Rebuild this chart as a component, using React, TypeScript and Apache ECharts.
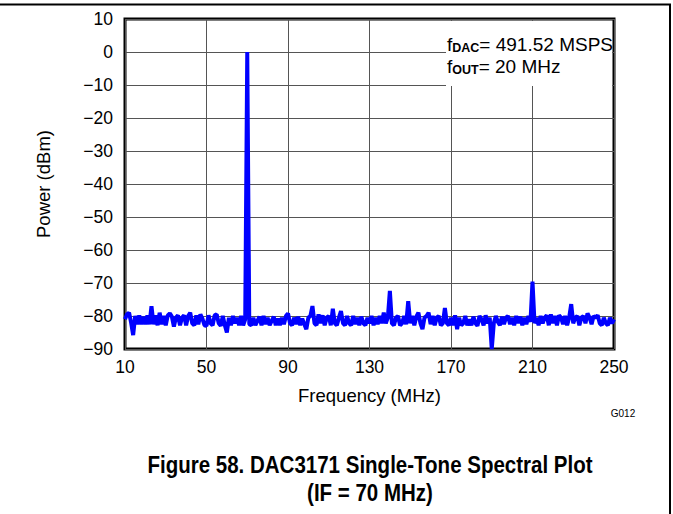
import React, { useEffect, useRef } from "react";
import * as echarts from "echarts";

const FREQ_START_MHZ = 10;
const FREQ_STEP_MHZ = 1;
const POWER_DBM = [
  // 10-19
  -81, -79.5, -79, -82, -85.8, -80, -82.5, -79.8, -82.5, -80.2,
  // 20-29
  -82.5, -79.8, -82.5, -77, -82.5, -79.8, -82.8, -79, -82.5, -80,
  // 30-39
  -82.8, -79.8, -79.2, -80.2, -83.2, -80.5, -79.8, -82.8, -80.5, -79.8,
  // 40-49
  -82.8, -80, -79, -82.2, -82.8, -79.8, -82.5, -79.5, -80.8, -82.8,
  // 50-59
  -83, -79.8, -82.2, -82.8, -79.8, -79.5, -82.2, -83, -80, -82.8,
  // 60-69
  -85, -80.5, -82.8, -80, -82.2, -80.5, -82.8, -80, -82.8, -81,
  // 70-79
  0, -82.5, -82.8, -80.5, -82.8, -81.5, -80.2, -82.8, -80, -82.5,
  // 80-89
  -80.5, -82.8, -81.5, -80.2, -82.8, -80.8, -82.8, -80.5, -82.5, -80,
  // 90-99
  -79.2, -82.2, -82.8, -80.5, -82.5, -80.2, -82.8, -80.8, -82.5, -84,
  // 100-109
  -80.5, -80, -77, -82.2, -82.8, -79.5, -82.2, -79.8, -82.8, -80.5,
  // 110-119
  -80, -82.8, -77.8, -82.2, -82.8, -80.5, -78.5, -82.2, -82.8, -80,
  // 120-129
  -82.2, -82.8, -80, -82.5, -80.5, -82.8, -80.2, -82.2, -82.8, -80.5,
  // 130-139
  -82.2, -80, -82.8, -80.5, -82.5, -80, -82.2, -79, -82.2, -80.5,
  // 140-149
  -72.4, -82.2, -82.8, -80.5, -80, -82.8, -82.2, -80, -82.5, -75.5,
  // 150-159
  -82.2, -80, -82.8, -80.2, -79, -82.2, -84, -80.5, -80, -79,
  // 160-169
  -82.5, -80, -82.8, -80.5, -80, -82.8, -82.2, -77.6, -82.2, -82.8,
  // 170-179
  -80.5, -82.8, -79.8, -84, -80.5, -82.8, -82.2, -80, -82.8, -81,
  // 180-189
  -82.8, -80.2, -82.2, -83, -80, -81, -82.8, -79.8, -82.2, -80.5,
  // 190-199
  -90, -82.2, -80, -81.8, -82.8, -80.2, -82.5, -80.5, -80, -82.5,
  // 200-209
  -80.5, -82.8, -80, -82.2, -80.2, -82.8, -80.5, -82.5, -80, -81.8,
  // 210-219
  -69.6, -82.2, -80.5, -82.8, -80, -82.2, -80.5, -79.8, -82.8, -79.5,
  // 220-229
  -82.2, -80, -82.8, -79.8, -80.5, -82.5, -80, -82.8, -80.5, -76.4,
  // 230-239
  -82.2, -80.5, -80, -82.8, -80.5, -80, -82.2, -79.2, -80.5, -82.5,
  // 240-250
  -80, -80.5, -79.8, -82.2, -82.8, -80.5, -82.2, -82.8, -80.5, -82.2, -81,
];

const X_MIN = 10;
const X_MAX = 250;
const X_INTERVAL = 40;
const Y_MIN = -90;
const Y_MAX = 10;
const Y_INTERVAL = 10;

const X_NAME = "Frequency (MHz)";
const Y_NAME = "Power (dBm)";
const NOTE_DAC = ["f", "DAC", "= 491.52 MSPS"];
const NOTE_OUT = ["f", "OUT", "= 20 MHz"];
const GRAPH_ID = "G012";
const CAPTION_LINES = [
  "Figure 58. DAC3171 Single-Tone Spectral Plot",
  "(IF = 70 MHz)",
];

const FONT = "'Liberation Sans', Arial, Helvetica, sans-serif";

const fmtNum = (v: number) => (v < 0 ? "\u2212" + Math.abs(v) : String(v));

export default function App() {
  const ref = useRef<HTMLDivElement>(null);

  useEffect(() => {
    if (!ref.current) return;
    const chart = echarts.init(ref.current, null, { renderer: "svg" });
    const data = POWER_DBM.map((v, i) => [FREQ_START_MHZ + i * FREQ_STEP_MHZ, v]);

    chart.setOption({
      animation: false,
      backgroundColor: "#ffffff",
      textStyle: { fontFamily: FONT },
      grid: {
        left: 125,
        top: 19,
        width: 489,
        height: 330,
        show: true,
        borderColor: "#000000",
        borderWidth: 3,
        backgroundColor: "transparent",
        containLabel: false,
      },
      xAxis: {
        type: "value",
        min: X_MIN,
        max: X_MAX,
        interval: X_INTERVAL,
        name: X_NAME,
        nameLocation: "middle",
        nameGap: 37,
        nameTextStyle: { fontSize: 18.5, color: "#000", fontFamily: FONT },
        axisLine: { show: false },
        axisTick: { show: false },
        axisLabel: { fontSize: 17.5, color: "#000", margin: 9, fontFamily: FONT },
        splitLine: { show: true, lineStyle: { color: "#555", width: 1 } },
      },
      yAxis: {
        type: "value",
        min: Y_MIN,
        max: Y_MAX,
        interval: Y_INTERVAL,
        name: Y_NAME,
        nameLocation: "middle",
        nameGap: 72,
        nameTextStyle: { fontSize: 18.5, color: "#000", fontFamily: FONT },
        axisLine: { show: false },
        axisTick: { show: false },
        axisLabel: {
          fontSize: 17.5,
          color: "#000",
          margin: 12,
          fontFamily: FONT,
          formatter: (v: number) => fmtNum(v),
        },
        splitLine: { show: true, lineStyle: { color: "#555", width: 1 } },
      },
      series: [
        {
          type: "line",
          data,
          showSymbol: false,
          symbol: "none",
          lineStyle: { color: "#0000ff", width: 4 },
          z: 3,
        },
      ],
      graphic: [
        // page frame lines
        {
          type: "line",
          shape: { x1: 0, y1: 4.5, x2: 671, y2: 4.5 },
          style: { stroke: "#000", lineWidth: 2 },
          z: 10,
        },
        {
          type: "line",
          shape: { x1: 670, y1: 4, x2: 670, y2: 514 },
          style: { stroke: "#000", lineWidth: 2 },
          z: 10,
        },
        // white box behind the note
        {
          type: "rect",
          shape: { x: 446, y: 21, width: 166, height: 65 },
          style: { fill: "#ffffff" },
          z: 1,
        },
        {
          type: "text",
          x: 447,
          y: 32,
          z: 5,
          style: {
            text:
              "{f|" + NOTE_DAC[0] + "}{sub|" + NOTE_DAC[1] + "}{n|" + NOTE_DAC[2] + "}\n" +
              "{f|" + NOTE_OUT[0] + "}{sub|" + NOTE_OUT[1] + "}{n|" + NOTE_OUT[2] + "}",
            fill: "#000",
            font: "19px " + FONT,
            rich: {
              f: { fontSize: 19, fontFamily: FONT, lineHeight: 22, verticalAlign: "bottom", fill: "#000" },
              n: { fontSize: 19, fontFamily: FONT, lineHeight: 22, verticalAlign: "bottom", fill: "#000" },
              sub: {
                fontSize: 12.5,
                fontWeight: "bold",
                fontFamily: FONT,
                lineHeight: 12,
                verticalAlign: "bottom",
                fill: "#000",
              },
            },
          },
        },
        {
          type: "text",
          x: 623,
          y: 413,
          style: {
            text: GRAPH_ID,
            fill: "#000",
            font: "10px " + FONT,
            textAlign: "center",
            textVerticalAlign: "middle",
          },
        },
        {
          type: "text",
          x: 370,
          y: 465,
          scaleX: 0.855,
          style: {
            text: CAPTION_LINES[0],
            fill: "#000",
            font: "bold 24px " + FONT,
            textAlign: "center",
            textVerticalAlign: "middle",
          },
        },
        {
          type: "text",
          x: 370,
          y: 493,
          scaleX: 0.855,
          style: {
            text: CAPTION_LINES[1],
            fill: "#000",
            font: "bold 24px " + FONT,
            textAlign: "center",
            textVerticalAlign: "middle",
          },
        },
      ],
    });

    return () => chart.dispose();
  }, []);

  return (
    <div
      ref={ref}
      style={{ position: "absolute", left: 0, top: 0, width: 673, height: 514 }}
    />
  );
}
